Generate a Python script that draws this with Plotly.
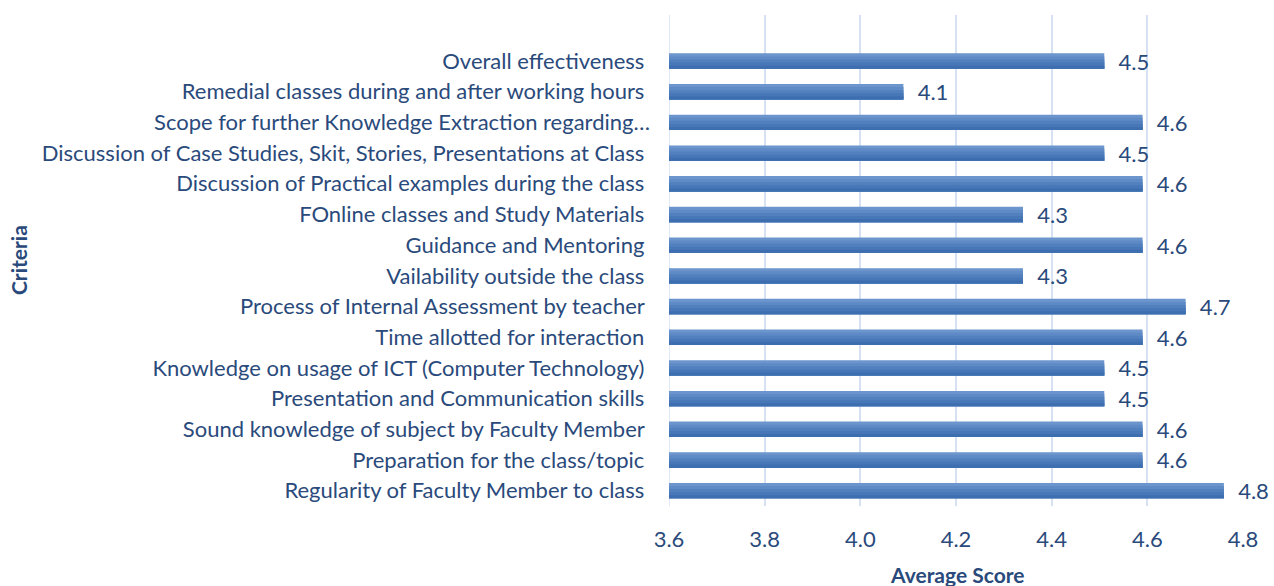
import plotly.graph_objects as go

categories = [
    "Overall effectiveness ",
    "Remedial classes during and after working hours ",
    "Scope for further Knowledge Extraction regarding…",
    "Discussion of Case Studies, Skit, Stories, Presentations at Class ",
    "Discussion of Practical examples during the class ",
    "FOnline classes and Study Materials ",
    "Guidance and Mentoring ",
    "Vailability outside the class ",
    "Process of Internal Assessment by teacher ",
    "Time allotted for interaction ",
    "Knowledge on usage of ICT (Computer Technology) ",
    "Presentation and Communication skills ",
    "Sound knowledge of subject by Faculty Member ",
    "Preparation for the class/topic ",
    "Regularity of Faculty Member to class ",
]
scores = [4.51, 4.09, 4.59, 4.51, 4.59, 4.34, 4.59, 4.34, 4.68, 4.59, 4.51, 4.51, 4.59, 4.59, 4.76]
x_ticks = [3.6, 3.8, 4.0, 4.2, 4.4, 4.6, 4.8]

TXT = "#2A4A7B"
GRID = "#d6e2f3"
FONT = "Lato"
FS = 22

# gradient approximation: overlapping bands, light at top to dark at bottom
# (reversed y axis: negative offset = visually upward)
bands = ["#6b95cc", "#5e8ac5", "#5280be", "#4777b7", "#3d6eaf"]
starts = [-0.25, -0.15, -0.05, 0.05, 0.15]

fig = go.Figure()
for col, st in zip(bands, starts):
    fig.add_trace(go.Bar(
        y=categories, x=scores, orientation="h",
        width=0.25 - st, offset=st,
        marker=dict(color=col, line=dict(width=0)),
        hoverinfo="x+y", showlegend=False,
    ))

# label trace (transparent bar carrying the value text)
fig.add_trace(go.Bar(
    y=categories, x=scores, orientation="h",
    width=0.5, offset=-0.25,
    marker=dict(color="rgba(0,0,0,0)", line=dict(width=0)),
    texttemplate="  %{x:.1f}", textposition="outside",
    textfont=dict(family=FONT, size=FS, color=TXT),
    constraintext="none", cliponaxis=False,
    showlegend=False, hoverinfo="skip",
))

L, R, T, B = 669, 31, 15, 80
plot_w = 1274 - L - R
plot_h = 586 - T - B

fig.update_layout(
    width=1274, height=586,
    barmode="overlay",
    plot_bgcolor="white", paper_bgcolor="white",
    margin=dict(l=L, r=R, t=T, b=B, autoexpand=False),
    font=dict(family=FONT, size=FS, color=TXT),
    xaxis=dict(
        range=[3.6, 4.8], tickvals=x_ticks, ticktext=[f"{v:.1f}" for v in x_ticks],
        showgrid=True, gridcolor=GRID, gridwidth=1.5,
        zeroline=False, showline=False, ticks="", automargin=False,
        tickfont=dict(family=FONT, size=FS, color=TXT),
        ticklabelstandoff=18,
    ),
    yaxis=dict(
        range=[14.5, -1.5], showgrid=False, zeroline=False, showline=False,
        ticks="", ticklabelstandoff=18, automargin=False,
        tickfont=dict(family=FONT, size=FS, color=TXT),
    ),
    shapes=[
        dict(type="line", xref="x", yref="paper", x0=x_ticks[0], x1=x_ticks[0],
             y0=0, y1=1, layer="below", line=dict(color=GRID, width=1.5)),
    ],
    annotations=[
        dict(text="<b>Average Score</b>", xref="paper", yref="paper",
             x=(957 - L) / plot_w, y=(586 - B - 574) / plot_h,
             xanchor="center", yanchor="middle",
             showarrow=False, font=dict(family=FONT, size=FS - 1, color=TXT)),
        dict(text="<b>Criteria</b>", xref="paper", yref="paper",
             x=(18 - L) / plot_w, y=(586 - B - 260) / plot_h,
             xanchor="center", yanchor="middle", textangle=-90,
             showarrow=False, font=dict(family=FONT, size=FS - 1, color=TXT)),
    ],
)

fig.write_html(
    "out.html",
    config={"displayModeBar": False},
    post_script="document.body.style.margin='0';document.body.style.overflow='hidden';",
)
